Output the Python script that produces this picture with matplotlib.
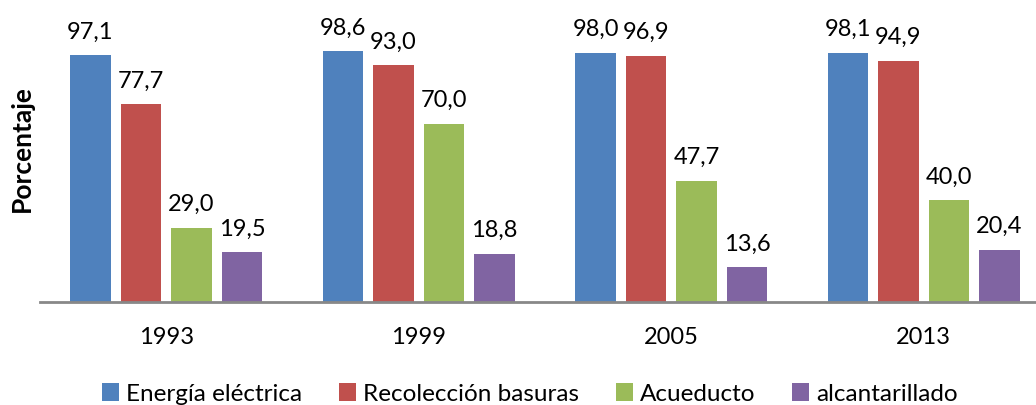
import numpy as np
import matplotlib.pyplot as plt

years = ['1993', '1999', '2005', '2013']
series = ['Energía eléctrica', 'Recolección basuras', 'Acueducto', 'alcantarillado']
energia = [97.1, 98.6, 98.0, 98.1]
basuras = [77.7, 93.0, 96.9, 94.9]
acueducto = [29.0, 70.0, 47.7, 40.0]
alcantarillado = [19.5, 18.8, 13.6, 20.4]
colors = ['#4F81BD', '#C0504D', '#9BBB59', '#8064A2']

plt.rcParams['font.family'] = ['Lato', 'DejaVu Sans']

fig = plt.figure(figsize=(10.36, 4.05), dpi=100)
# axes spans 40..1050 px horizontally (right side cropped in the original)
ax = fig.add_axes([40 / 1036, (405 - 301.7) / 405, 1010 / 1036, 254 / 405])

x = np.arange(len(years))
width = 0.16
step = 0.2
for i, (vals, name) in enumerate(zip([energia, basuras, acueducto, alcantarillado], series)):
    pos = x + (i - 1.5) * step
    bars = ax.bar(pos, vals, width, color=colors[i], label=name, zorder=2)
    for b, v in zip(bars, vals):
        ax.text(b.get_x() + b.get_width() / 2, v + 5.0, f'{v:.1f}'.replace('.', ','),
                ha='center', va='bottom', fontsize=17, clip_on=False)

ax.set_xlim(-0.5, len(years) - 0.5)
ax.set_ylim(0, 100)
ax.set_xticks(x)
ax.set_xticklabels(years, fontsize=17)
ax.tick_params(axis='x', length=0, pad=18)
ax.set_yticks([])
for s in ['top', 'right', 'left']:
    ax.spines[s].set_visible(False)
ax.spines['bottom'].set_color('#888888')
ax.spines['bottom'].set_linewidth(2)

fig.text(22 / 1036, 1 - 149 / 405, 'Porcentaje', rotation=90, ha='center', va='center',
         fontsize=19, fontweight='bold')

fig.legend(loc='center', bbox_to_anchor=(530 / 1036, 1 - 394 / 405), ncol=4, frameon=False,
           fontsize=17.5, handlelength=0.7, handleheight=0.7, handletextpad=0.3,
           columnspacing=1.5, borderaxespad=0)

fig.savefig('out.png', dpi=100)
